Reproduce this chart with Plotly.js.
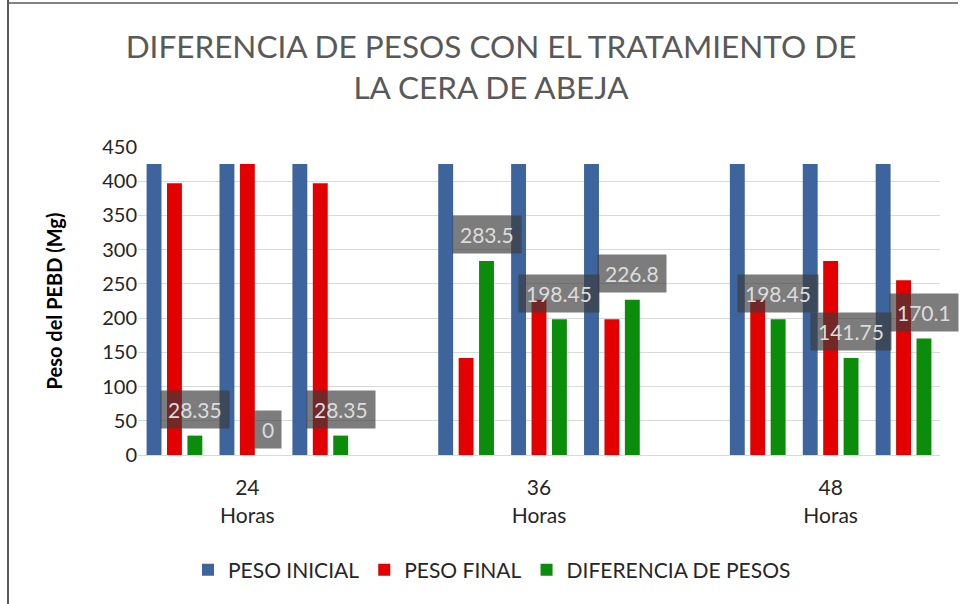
<!DOCTYPE html>
<html><head><meta charset="utf-8">
<script src="https://cdn.plot.ly/plotly-3.0.1.min.js"></script>
<style>html,body{margin:0;padding:0;background:#fff}#chart{width:961px;height:604px}</style>
</head><body><div id="chart"></div>
<script>
// slot positions (three sub-groups per time, an empty slot between times)
const slots = [0, 1, 2, 4, 5, 6, 8, 9, 10];
const tickSlots = [1, 5, 9];
const tickLabels = ["24<br>Horas", "36<br>Horas", "48<br>Horas"];
const pesoInicial = [425.25, 425.25, 425.25, 425.25, 425.25, 425.25, 425.25, 425.25, 425.25];
const pesoFinal = [396.9, 425.25, 396.9, 141.75, 226.8, 198.45, 226.8, 283.5, 255.15];
const diferencia = [28.35, 0, 28.35, 283.5, 198.45, 226.8, 198.45, 141.75, 170.1];
const diferenciaLabels = ["28.35", "0", "28.35", "283.5", "198.45", "226.8", "198.45", "141.75", "170.1"];

const font = "Lato, 'Open Sans', sans-serif";
const mk = (name, y, fill, line) => ({
  type: "bar", name: name, x: slots, y: y,
  marker: {color: fill, line: {color: line, width: 0}},
  hoverinfo: "skip"
});
const data = [
  mk("PESO INICIAL", pesoInicial, "#3d649c", "#2c4b78"),
  mk("PESO FINAL", pesoFinal, "#e20000", "#b00000"),
  mk("DIFERENCIA DE PESOS", diferencia, "#0b8d0b", "#086a08")
];
const bargap = 0.16;
const off = (1 - bargap) / 3;
const annotations = slots.map((s, i) => ({
  x: s + off, y: diferencia[i], xref: "x", yref: "y",
  text: diferenciaLabels[i], showarrow: false,
  yshift: 26, yanchor: "middle", xanchor: "center",
  bgcolor: "rgba(60,60,60,0.67)", borderpad: 7,
  height: 23,
  font: {family: font, size: 21, color: "#dcdcdc"}
}));

const layout = {
  width: 961, height: 604,
  margin: {l: 137.5, r: 20.5, t: 147, b: 149},
  paper_bgcolor: "#fff", plot_bgcolor: "#fff",
  barmode: "group", bargap: bargap, bargroupgap: 0.27,
  title: {
    text: "DIFERENCIA DE PESOS CON EL TRATAMIENTO DE<br>LA CERA DE ABEJA",
    x: 491 / 961, xanchor: "center", xref: "container",
    y: 1 - 58 / 604, yanchor: "top", yref: "container",
    font: {family: font, size: 31.5, color: "#595959"}
  },
  xaxis: {
    range: [-0.5, 10.5], tickmode: "array", tickvals: tickSlots, ticktext: tickLabels,
    showgrid: false, zeroline: false, showline: true, linecolor: "#d9d9d9",
    ticks: "", tickfont: {family: font, size: 21, color: "#262626"}, ticklabelstandoff: 14
  },
  yaxis: {
    range: [0, 450], dtick: 50, showgrid: true, gridcolor: "#d9d9d9",
    zeroline: false, showline: false, ticks: "",
    tickfont: {family: font, size: 20, color: "#262626"},
    title: {text: "<b>Peso del PEBD (Mg)</b>", font: {family: font, size: 20, color: "#000"}, standoff: 34}
  },
  legend: {
    orientation: "h", xref: "container", yref: "container",
    x: 492 / 961, xanchor: "center", y: 1 - 570 / 604, yanchor: "middle",
    font: {family: font, size: 21, color: "#262626"}, itemwidth: 30, traceorder: "normal"
  },
  annotations: annotations,
  shapes: [
    {type: "line", xsizemode: "pixel", ysizemode: "pixel", xref: "paper", yref: "paper",
     xanchor: 0, yanchor: 0, x0: -130, x1: -130, y0: -149, y1: 455, line: {color: "#595959", width: 2}},
    {type: "line", xsizemode: "pixel", ysizemode: "pixel", xref: "paper", yref: "paper",
     xanchor: 0, yanchor: 1, x0: -130, x1: 820, y0: 144, y1: 144, line: {color: "#595959", width: 1.5}}
  ]
};
Plotly.newPlot("chart", data, layout, {displayModeBar: false, staticPlot: true});
</script></body></html>
